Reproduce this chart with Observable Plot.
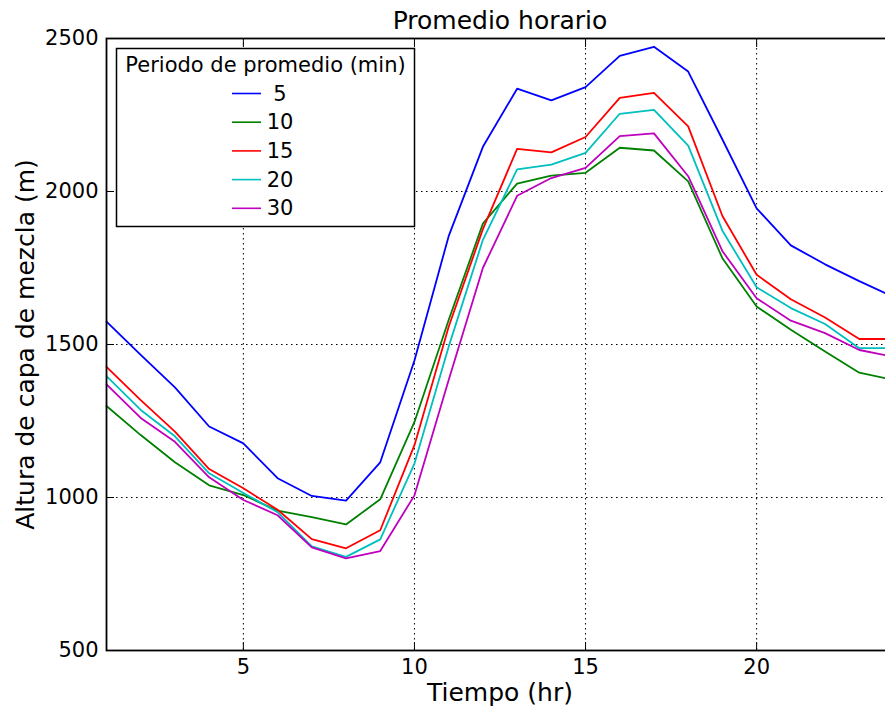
<!DOCTYPE html>
<html><head><meta charset="utf-8">
<script src="https://cdn.jsdelivr.net/npm/d3@7"></script>
<script src="https://cdn.jsdelivr.net/npm/@observablehq/plot@0.6"></script>
<style>body{margin:0;background:#fff;} #chart svg{overflow:hidden;}</style>
</head><body><div id="chart"></div>
<script>
const hours = [1,2,3,4,5,6,7,8,9,10,11,12,13,14,15,16,17,18,19,20,21,22,23,24];
const periods = ["5","10","15","20","30"];
const colors = ["#0000ff","#008000","#ff0000","#00bfbf","#bf00bf"];
const serie5  = [1575,1466,1360,1232,1177,1063,1005,990,1115,1448,1854,2146,2336,2298,2341,2443,2473,2392,2170,1945,1824,1762,1707,1656];
const serie10 = [1299,1204,1115,1040,1008,957,936,912,994,1247,1580,1895,2026,2052,2061,2143,2134,2033,1782,1624,1548,1477,1408,1384];
const serie15 = [1427,1318,1215,1093,1030,960,864,834,893,1171,1558,1877,2139,2128,2178,2306,2322,2213,1920,1728,1648,1588,1518,1518];
const serie20 = [1397,1286,1200,1079,1015,952,840,806,863,1111,1493,1842,2072,2088,2126,2254,2267,2150,1872,1687,1619,1567,1488,1488];
const serie30 = [1370,1260,1182,1066,992,942,837,801,825,1007,1384,1750,1986,2044,2077,2181,2190,2050,1805,1651,1578,1537,1482,1460];
const series = [serie5, serie10, serie15, serie20, serie30];
const xTicks = [5,10,15,20];
const yTicks = [500,1000,1500,2000,2500];
const titleText = "Promedio horario";
const xLabel = "Tiempo (hr)";
const yLabel = "Altura de capa de mezcla (m)";
const legendTitle = "Periodo de promedio (min)";

const rows = [];
series.forEach((vals, i) => vals.forEach((v, j) => rows.push({hour: hours[j], value: v, period: periods[i]})));

const font = "'DejaVu Sans', sans-serif";
const grid = {stroke: "black", strokeOpacity: 1, strokeWidth: 1, strokeDasharray: "1.5,3.5"};

const chart = Plot.plot({
  width: 885, height: 711,
  marginLeft: 106, marginRight: -8, marginTop: 38, marginBottom: 61,
  style: {fontFamily: font, background: "white", color: "black", overflow: "hidden"},
  x: {domain: [1, 24]},
  y: {domain: [500, 2500]},
  color: {domain: periods, range: colors},
  marks: [
    Plot.gridX(xTicks, grid),
    Plot.gridY(yTicks, grid),
    Plot.line(rows, {x: "hour", y: "value", z: "period", stroke: "period", strokeWidth: 1.8}),
    Plot.axisX(xTicks, {anchor: "bottom", tickSize: -8, tickPadding: 17, fontSize: 21, label: null, stroke: "black", tickFormat: d => String(d)}),
    Plot.axisX(xTicks, {anchor: "top", tickSize: -8, tickFormat: () => "", label: null, stroke: "black"}),
    Plot.axisY(yTicks, {anchor: "left", tickSize: -8, tickPadding: 16, fontSize: 21, label: null, stroke: "black", tickFormat: d => String(d)}),
    Plot.frame({stroke: "black", strokeWidth: 1.8}),
    Plot.text([titleText], {frameAnchor: "top", dy: -18, lineAnchor: "middle", textAnchor: "middle", fontSize: 25, fill: "black"}),
    Plot.text([xLabel], {frameAnchor: "bottom", dy: 42, lineAnchor: "middle", textAnchor: "middle", fontSize: 25, fill: "black"}),
    Plot.text([yLabel], {frameAnchor: "left", dx: -81, rotate: -90, lineAnchor: "middle", textAnchor: "middle", fontSize: 25, fill: "black"})
  ]
});

const svg = d3.select(chart);
const lg = svg.append("g").attr("font-family", font);
lg.append("rect").attr("x", 116.5).attr("y", 48.5).attr("width", 298).attr("height", 178)
  .attr("fill", "white").attr("stroke", "black").attr("stroke-width", 1.5);
lg.append("text").attr("x", 265.5).attr("y", 65).attr("text-anchor", "middle")
  .attr("dominant-baseline", "central").attr("font-size", 21).text(legendTitle);
periods.forEach((p, i) => {
  const yy = 93.5 + i * 28.7;
  lg.append("line").attr("x1", 232).attr("x2", 261).attr("y1", yy).attr("y2", yy)
    .attr("stroke", colors[i]).attr("stroke-width", 1.6);
  lg.append("text").attr("x", 280).attr("y", yy).attr("dominant-baseline", "central")
    .attr("font-size", 21).text(p);
});

document.getElementById("chart").appendChild(chart);
</script>
</body></html>
